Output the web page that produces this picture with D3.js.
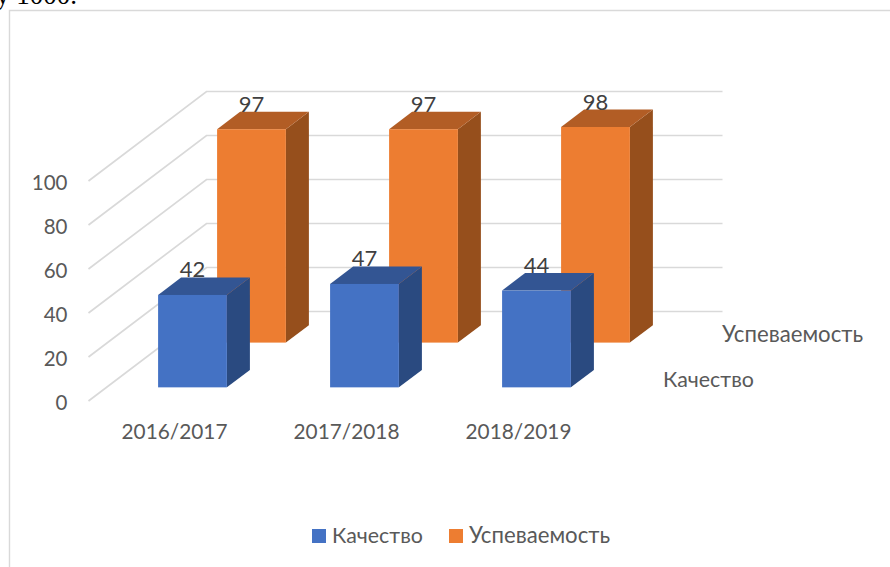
<!DOCTYPE html>
<html><head><meta charset="utf-8">
<style>html,body{margin:0;padding:0;background:#fff;overflow:hidden}text{font-family:Lato,sans-serif}</style>
<script src="https://cdn.jsdelivr.net/npm/d3@7"></script></head>
<body><svg id="c" width="890" height="567"></svg>
<script>
const categories = ["2016/2017","2017/2018","2018/2019"];
const seriesNames = ["Качество","Успеваемость"];
const quality = [42,47,44];
const performance = [97,97,98];
const yTicks = [0,20,40,60,80,100];
const colors = {"Качество":["#4472c4","#335593","#2a4a80"],"Успеваемость":["#ed7d31","#b25d25","#964f1c"]};

const svg = d3.select("#c");
const y = d3.scaleLinear().domain([0,100]).range([401,181]);
const x = d3.scaleBand().domain(categories).range([88.5,604.5]).paddingInner(0.6).paddingOuter(0.3);
const dz = d3.scaleBand().domain(seriesNames).range([0,1]);
const DX=118, DY=-89.5;
const barD = 0.195;
const sx = t=>t*DX, sy=t=>t*DY;
const labelSize = {"Качество":21.4,"Успеваемость":22.2};

svg.append("path").attr("d","M9.5,567V10.5H890").attr("fill","none").attr("stroke","#d9d9d9").attr("stroke-width",1.4);
svg.append("text").attr("x",-4).attr("y",4).attr("font-size",27).style("font-family","'Liberation Serif'").attr("fill","#000").text("у 1000.");

const gl = svg.append("g");
yTicks.forEach(t=>{
  gl.append("polyline").attr("fill","none").attr("stroke","#d9d9d9").attr("stroke-width",1.7)
    .attr("points",[[x.range()[0],y(t)],[x.range()[0]+DX,y(t)+DY],[x.range()[1]+DX,y(t)+DY]].join(" "));
});
const axis = d3.axisLeft(y).tickValues(yTicks).tickSize(0).tickPadding(0);
const ga = svg.append("g").attr("transform","translate(67.5,1.5)").call(axis);
ga.select(".domain").remove();
ga.selectAll("text").attr("font-size",20.5).attr("fill","#595959").style("font-family","Lato,sans-serif").attr("dy","0.33em");
svg.selectAll(".cat").data(categories).join("text").attr("class","cat")
  .attr("x",d=>x(d)+x.bandwidth()/2).attr("y",439).attr("text-anchor","middle")
  .attr("font-size",20.8).attr("fill","#595959").text(d=>d);

function drawSeries(name, values){
  const t0 = dz(name)+(dz.bandwidth()-barD)/2, t1=t0+barD;
  const g = svg.append("g");
  categories.forEach((c,i)=>{
    const xl = x(c)+sx(t0), xr = xl+x.bandwidth();
    const yb = y(0)+sy(t0), yt = y(values[i])+sy(t0);
    const ddx = sx(t1-t0), ddy = sy(t1-t0);
    g.append("path").attr("fill",colors[name][2]).attr("d",`M${xr},${yt}L${xr+ddx},${yt+ddy}L${xr+ddx},${yb+ddy}L${xr},${yb}Z`);
    g.append("path").attr("fill",colors[name][1]).attr("d",`M${xl},${yt}L${xl+ddx},${yt+ddy}L${xr+ddx},${yt+ddy}L${xr},${yt}Z`);
    g.append("rect").attr("x",xl).attr("y",yt).attr("width",x.bandwidth()).attr("height",yb-yt).attr("fill",colors[name][0]);
    g.append("text").attr("x",xl+x.bandwidth()/2).attr("y",yt+ddy).attr("text-anchor","middle")
      .attr("font-size",22).attr("fill","#404040").text(values[i]);
  });
}
drawSeries("Успеваемость",performance);
drawSeries("Качество",quality);

const depthLabelX = {"Качество":663,"Успеваемость":722};
const depthLabelY = {"Качество":387,"Успеваемость":342};
seriesNames.forEach(n=>{
  svg.append("text").attr("x",depthLabelX[n]).attr("y",depthLabelY[n]).attr("font-size",labelSize[n]).attr("fill","#595959").text(n);
});

const lg = svg.append("g");
[[312,"Качество",332],[449,"Успеваемость",469]].forEach(([sxx,n,tx])=>{
  lg.append("rect").attr("x",sxx).attr("y",529).attr("width",14).attr("height",14).attr("fill",colors[n][0]);
  lg.append("text").attr("x",tx).attr("y",543).attr("font-size",labelSize[n]).attr("fill","#595959").text(n);
});
</script></body></html>
